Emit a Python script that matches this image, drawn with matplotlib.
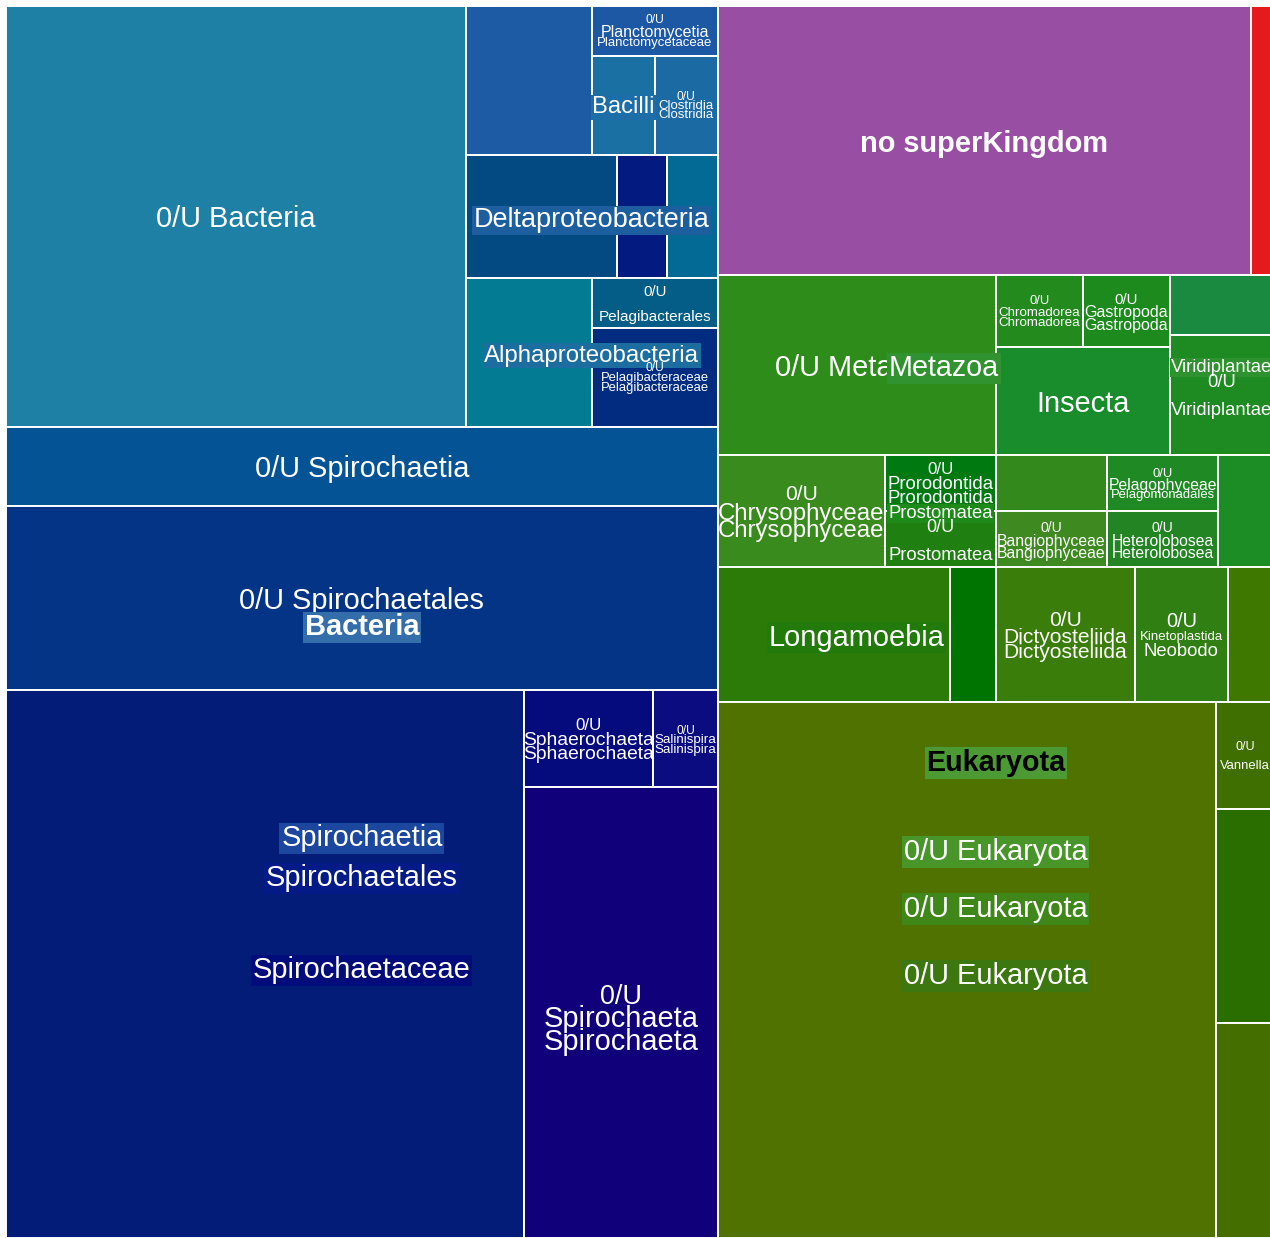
import matplotlib
matplotlib.use("Agg")

import matplotlib.pyplot as plt
from matplotlib.patches import Rectangle

plt.rcParams["font.family"] = ["Liberation Sans", "DejaVu Sans"]

# leaf cells of the treemap (counts per taxon)
leaf_keys = [
    "0/U Bacteria", "bact_a", "Planctomycetia", "Bacilli", "Clostridia",
    "delta_a", "delta_b", "delta_c", "alpha_a", "Pelagibacterales",
    "Pelagibacteraceae", "0/U Spirochaetia", "0/U Spirochaetales",
    "Spirochaetaceae", "Sphaerochaeta", "Salinispira", "0/U Spirochaeta",
    "no superKingdom", "unknown",
    "0/U Metazoa", "Chromadorea", "Gastropoda", "Insecta", "euk_a", "Viridiplantae",
    "Chrysophyceae", "Prorodontida", "Prostomatea", "euk_b", "Bangiophyceae",
    "Pelagophyceae", "Heterolobosea", "euk_c",
    "Longamoebia", "euk_d", "Dictyosteliida", "Kinetoplastida", "euk_e",
    "0/U Eukaryota", "Vannella", "euk_f", "euk_g",
]
leaf_counts = [
    31, 3, 1, 1, 1,
    3, 1, 1, 3, 1,
    2, 9, 21,
    45.5, 2, 1, 14,
    23, 1,
    8, 1, 1, 3, 1, 2,
    3, 1, 1, 1, 1,
    1, 1, 1,
    5, 1, 3, 2, 1,
    42.8, 1, 2, 2,
]
leaf_colors = [
    "#1f80a6", "#1d5ca4", "#1c58a3", "#1b70a3", "#1c6aa3",
    "#044a82", "#031a80", "#036a95", "#037b92", "#035d86",
    "#022c80", "#045394", "#043486",
    "#021c78", "#050a7d", "#0a0c7f", "#10007a",
    "#984ea3", "#e41a1c",
    "#2e8c1b", "#238b1e", "#1c8a1c", "#198c2b", "#1a8a40", "#1d8a22",
    "#3a8b1e", "#007a10", "#1f7f10", "#34891c", "#3e8a20",
    "#1f8a23", "#238423", "#1c8c24",
    "#2c7a08", "#007400", "#3b7d0a", "#2f7f12", "#3e7800",
    "#4f7200", "#3f6f00", "#2a6e00", "#446f00",
]

# nesting of the cells; splits alternate left-right / top-bottom
layout_tree = [
    [
        ["0/U Bacteria", [["bact_a", ["Planctomycetia", ["Bacilli", "Clostridia"]]],
                          ["delta_a", "delta_b", "delta_c"],
                          ["alpha_a", ["Pelagibacterales", "Pelagibacteraceae"]]]],
        "0/U Spirochaetia",
        "0/U Spirochaetales",
        ["Spirochaetaceae", [["Sphaerochaeta", "Salinispira"], "0/U Spirochaeta"]],
    ],
    [
        ["no superKingdom", "unknown"],
        ["0/U Metazoa", [["Chromadorea", "Gastropoda"], "Insecta"], ["euk_a", "Viridiplantae"]],
        ["Chrysophyceae", ["Prorodontida", "Prostomatea"], ["euk_b", "Bangiophyceae"],
         ["Pelagophyceae", "Heterolobosea"], "euk_c"],
        ["Longamoebia", "euk_d", "Dictyosteliida", "Kinetoplastida", "euk_e"],
        ["0/U Eukaryota", ["Vannella", "euk_f", "euk_g"]],
    ],
]

W = "white"
# anchor cells, dx, dy (px), text, size (px), bold, colour, highlight
labels = [
    (("0/U Bacteria",), 0, 0, "0/U Bacteria", 29, False, W, None),
    (("Planctomycetia",), 0, -11.5, "0/U", 12, False, W, None),
    (("Planctomycetia",), 0, 0, "Planctomycetia", 16, False, W, None),
    (("Planctomycetia",), 0, 10.5, "Planctomycetaceae", 13.3, False, W, None),
    (("Bacilli",), 0, 0, "Bacilli", 23.7, False, W, "#1d6ea8"),
    (("Clostridia",), 0, -9.5, "0/U", 12, False, W, None),
    (("Clostridia",), 0, 0, "Clostridia", 13.2, False, W, None),
    (("Clostridia",), 0, 8.5, "Clostridia", 13.2, False, W, None),
    (("delta_a", "delta_c"), 0, 1, "Deltaproteobacteria", 27, False, W, "#1d5e9e"),
    (("Pelagibacterales",), 0, -13, "0/U", 15, False, W, None),
    (("Pelagibacterales",), 0, 12, "Pelagibacterales", 15.2, False, W, None),
    (("alpha_a", "Pelagibacteraceae"), 0, 0.5, "Alphaproteobacteria", 24, False, W, "#1c6ea0"),
    (("Pelagibacteraceae",), 0, -10.5, "0/U", 12, False, W, None),
    (("Pelagibacteraceae",), 0, -0.5, "Pelagibacteraceae", 13, False, W, None),
    (("Pelagibacteraceae",), 0, 9.5, "Pelagibacteraceae", 13, False, W, None),
    (("0/U Spirochaetia",), 0, 0, "0/U Spirochaetia", 29, False, W, None),
    (("0/U Spirochaetales",), 0, 0.5, "0/U Spirochaetales", 29, False, W, None),
    (("0/U Spirochaetales",), 0, 26.5, "Bacteria", 29, True, W, "#346eaa"),
    (("Spirochaetaceae", "0/U Spirochaeta"), 0, -128.5, "Spirochaetia", 29, False, W, "#1b489e"),
    (("Spirochaetaceae", "0/U Spirochaeta"), 0, -88.5, "Spirochaetales", 29, False, W, "#031a87"),
    (("Spirochaetaceae", "0/U Spirochaeta"), 0, 3.5, "Spirochaetaceae", 29, False, W, "#020c7a"),
    (("Sphaerochaeta",), 0, -14.5, "0/U", 17, False, W, None),
    (("Sphaerochaeta",), 0, 0, "Sphaerochaeta", 19.3, False, W, None),
    (("Sphaerochaeta",), 0, 14.5, "Sphaerochaeta", 19.3, False, W, None),
    (("Salinispira",), 0, -8.5, "0/U", 12, False, W, None),
    (("Salinispira",), 0, 0, "Salinispira", 13.4, False, W, None),
    (("Salinispira",), 0, 10, "Salinispira", 13.4, False, W, None),
    (("0/U Spirochaeta",), 0, -18, "0/U", 27, False, W, None),
    (("0/U Spirochaeta",), 0, 4, "Spirochaeta", 29, False, W, None),
    (("0/U Spirochaeta",), 0, 27, "Spirochaeta", 29, False, W, None),
    (("no superKingdom",), 0, 0.5, "no superKingdom", 29, True, W, None),
    (("0/U Metazoa",), 0, 0, "0/U Metazoa", 29, False, W, None),
    (("0/U Metazoa", "Insecta"), 0, 0.5, "Metazoa", 28.7, False, W, "#31932f"),
    (("Chromadorea",), 0, -11.5, "0/U", 13, False, W, None),
    (("Chromadorea",), 0, 0, "Chromadorea", 13.4, False, W, None),
    (("Chromadorea",), 0, 10.5, "Chromadorea", 13.4, False, W, None),
    (("Gastropoda",), 0, -12.5, "0/U", 15, False, W, None),
    (("Gastropoda",), 0, 0, "Gastropoda", 16, False, W, None),
    (("Gastropoda",), 0, 12.5, "Gastropoda", 16, False, W, None),
    (("Insecta",), 0, 0, "Insecta", 29, False, W, None),
    (("euk_a", "Viridiplantae"), 0, 0.5, "Viridiplantae", 18.5, False, W, "#2e922e"),
    (("Viridiplantae",), 0, -14, "0/U", 18.5, False, W, None),
    (("Viridiplantae",), 0, 14, "Viridiplantae", 18.5, False, W, None),
    (("Chrysophyceae",), 0, -19, "0/U", 21, False, W, None),
    (("Chrysophyceae",), 0, 1, "Chrysophyceae", 24, False, W, None),
    (("Chrysophyceae",), 0, 18, "Chrysophyceae", 24, False, W, None),
    (("Prorodontida",), 0, -15, "0/U", 17, False, W, None),
    (("Prorodontida",), 0, 0, "Prorodontida", 18.7, False, W, None),
    (("Prorodontida",), 0, 14, "Prorodontida", 18.7, False, W, None),
    (("Prorodontida", "Prostomatea"), 0, 1, "Prostomatea", 18.5, False, W, "#1d8a1a"),
    (("Prostomatea",), 0, -13, "0/U", 18, False, W, None),
    (("Prostomatea",), 0, 15, "Prostomatea", 18.5, False, W, None),
    (("Bangiophyceae",), 0, -12, "0/U", 14, False, W, None),
    (("Bangiophyceae",), 0, 1, "Bangiophyceae", 15.7, False, W, None),
    (("Bangiophyceae",), 0, 13, "Bangiophyceae", 15.7, False, W, None),
    (("Pelagophyceae",), 0, -10, "0/U", 13, False, W, None),
    (("Pelagophyceae",), 0, 1, "Pelagophyceae", 15.7, False, W, None),
    (("Pelagophyceae",), 0, 11, "Pelagomonadales", 13, False, W, None),
    (("Heterolobosea",), 0, -12, "0/U", 14, False, W, None),
    (("Heterolobosea",), 0, 1, "Heterolobosea", 15.8, False, W, None),
    (("Heterolobosea",), 0, 13, "Heterolobosea", 15.8, False, W, None),
    (("Longamoebia", "euk_d"), 0, 0.5, "Longamoebia", 29, False, W, "#217a0a"),
    (("Dictyosteliida",), 0, -15.5, "0/U", 21, False, W, None),
    (("Dictyosteliida",), 0, 1.5, "Dictyosteliida", 21, False, W, None),
    (("Dictyosteliida",), 0, 16.5, "Dictyosteliida", 21, False, W, None),
    (("Kinetoplastida",), 0, -14.5, "0/U", 20, False, W, None),
    (("Kinetoplastida",), 0, 1.5, "Kinetoplastida", 13.2, False, W, None),
    (("Kinetoplastida",), 0, 15.5, "Neobodo", 18.5, False, W, None),
    (("0/U Metazoa", "euk_g"), 0, 3.5, "Eukaryota", 28.7, True, "black", "#4c9a34"),
    (("0/U Eukaryota", "euk_g"), 0, -120.5, "0/U Eukaryota", 29, False, W, "#48962a"),
    (("0/U Eukaryota", "euk_g"), 0, -63.5, "0/U Eukaryota", 29, False, W, "#40871a"),
    (("0/U Eukaryota", "euk_g"), 0, 3.5, "0/U Eukaryota", 29, False, W, "#3c780f"),
    (("Vannella",), 0, -9.5, "0/U", 12.5, False, W, None),
    (("Vannella",), 0, 9.5, "Vannella", 13, False, W, None),
]

value = dict(zip(leaf_keys, leaf_counts))
color = dict(zip(leaf_keys, leaf_colors))


def total(node):
    if isinstance(node, str):
        return value[node]
    return sum(total(c) for c in node)


def place(node, x, y, w, h, horizontal, out):
    if isinstance(node, str):
        out[node] = (x, y, w, h)
        return
    s = total(node)
    pos = x if horizontal else y
    for child in node:
        frac = total(child) / s
        if horizontal:
            place(child, pos, y, w * frac, h, False, out)
            pos += w * frac
        else:
            place(child, x, pos, w, h * frac, True, out)
            pos += h * frac


rects = {}
# treemap box in pixel units; right edge runs past the figure and is cut off
place(layout_tree, 6, 6, 1268, 1232, True, rects)

fig = plt.figure(figsize=(12.7, 12.38), dpi=100)
ax = fig.add_axes([0, 0, 1, 1])
ax.set_xlim(0, 1270)
ax.set_ylim(1238, 0)
ax.axis("off")

for key in leaf_keys:
    x, y, w, h = rects[key]
    ax.add_patch(Rectangle((x, y), w, h, facecolor=color[key],
                           edgecolor="white", linewidth=1.4))

for keys, dx, dy, text, size, bold, tcol, bg in labels:
    x0 = min(rects[k][0] for k in keys)
    y0 = min(rects[k][1] for k in keys)
    x1 = max(rects[k][0] + rects[k][2] for k in keys)
    y1 = max(rects[k][1] + rects[k][3] for k in keys)
    kw = {}
    if bg:
        kw["bbox"] = dict(boxstyle="square,pad=0.06", facecolor=bg, edgecolor="none")
    # small shift down so the glyphs sit where the plotly ones did
    ax.text((x0 + x1) / 2 + dx, (y0 + y1) / 2 + dy + 0.1 * size, text,
            ha="center", va="center", fontsize=size * 0.72,
            fontweight="bold" if bold else "normal", color=tcol, **kw)

plt.savefig("out.png", dpi=100, facecolor="white")
